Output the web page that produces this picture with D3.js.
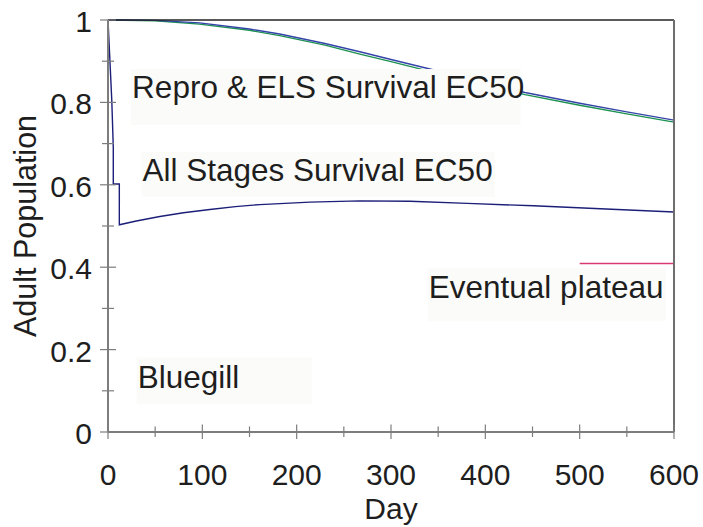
<!DOCTYPE html>
<html lang="en">
<head>
<meta charset="UTF-8">
<title>Bluegill adult population</title>
<script src="https://d3js.org/d3.v7.min.js"></script>
<style>
    body { margin: 0; background: #fff; }
    text { font-family: "Liberation Sans", Arial, sans-serif; fill: #1e1e1e; }
</style>
</head>
<body>
<div id="chart"></div>
<script>
// days and adult population
var reproDays  = [0, 50, 97, 150, 182, 230, 267, 300, 338, 400, 442, 500, 550, 600];
var reproBlue  = [1, 0.999, 0.993, 0.978, 0.966, 0.943, 0.923, 0.904, 0.883, 0.848, 0.824, 0.798, 0.777, 0.757];
var reproGreen = [1, 0.998, 0.990, 0.975, 0.962, 0.939, 0.917, 0.899, 0.877, 0.842, 0.819, 0.793, 0.772, 0.752];

var allDays   = [0, 4, 5.6, 5.6, 12, 12, 30, 55, 80, 108, 135, 161, 214, 267, 320, 381, 451, 522, 600];
var allValues = [1, 0.806, 0.692, 0.602, 0.602, 0.503, 0.512, 0.523, 0.532, 0.540, 0.547, 0.552, 0.558, 0.561, 0.560, 0.555, 0.549, 0.542, 0.534];

var plateauDays   = [500, 600];
var plateauValues = [0.409, 0.409];

var xTickLabels = ["0", "100", "200", "300", "400", "500", "600"];
var yTickLabels = ["0", "0.2", "0.4", "0.6", "0.8", "1"];

var width = 703, height = 527;

var x = d3.scaleLinear().domain([0, 600]).range([108, 674]);
var y = d3.scaleLinear().domain([0, 1]).range([432, 20]);

var svg = d3.select("#chart").append("svg")
    .attr("width", width)
    .attr("height", height);

function toPoints(days, vals) {
    return days.map(function(d, i) { return [d, vals[i]]; });
}

var line = d3.line()
    .x(function(d) { return x(d[0]); })
    .y(function(d) { return y(d[1]); });

// series lines
var series = [
    {pts: toPoints(reproDays, reproGreen), color: "#1b9150"},
    {pts: toPoints(reproDays, reproBlue), color: "#3444a8"},
    {pts: toPoints(allDays, allValues), color: "#1c1f78"},
    {pts: toPoints(plateauDays, plateauValues), color: "#d93a74"}
];

svg.selectAll("path.series")
    .data(series)
    .enter().append("path")
    .attr("class", "series")
    .attr("d", function(d) { return line(d.pts); })
    .attr("fill", "none")
    .attr("stroke", function(d) { return d.color; })
    .attr("stroke-width", 1.4);

// frame: top black, right grey
svg.append("line")
    .attr("x1", x(0)).attr("x2", x(600))
    .attr("y1", y(1)).attr("y2", y(1))
    .attr("stroke", "#222").attr("stroke-width", 1.5);
svg.append("line")
    .attr("x1", x(600)).attr("x2", x(600))
    .attr("y1", y(1)).attr("y2", y(0))
    .attr("stroke", "#6e6e6e").attr("stroke-width", 2);

// axes with ticks crossing the axis line
var axisColor = "#7d7d7d";
var xMajor = d3.range(0, 601, 100), xMinor = d3.range(50, 600, 100);
var yMajor = d3.range(0, 1.01, 0.2), yMinor = d3.range(0.1, 1, 0.2);

var gx = svg.append("g");
gx.append("line")
    .attr("x1", x(0)).attr("x2", x(600))
    .attr("y1", y(0)).attr("y2", y(0))
    .attr("stroke", axisColor).attr("stroke-width", 2);
gx.selectAll("line.maj").data(xMajor).enter().append("line")
    .attr("x1", function(d) { return x(d); }).attr("x2", function(d) { return x(d); })
    .attr("y1", y(0) - 7.5).attr("y2", y(0) + 7)
    .attr("stroke", axisColor).attr("stroke-width", 1.2);
gx.selectAll("line.min").data(xMinor).enter().append("line")
    .attr("x1", function(d) { return x(d); }).attr("x2", function(d) { return x(d); })
    .attr("y1", y(0) - 5.5).attr("y2", y(0) + 5)
    .attr("stroke", axisColor).attr("stroke-width", 1.2);
gx.selectAll("text").data(xMajor).enter().append("text")
    .attr("x", function(d) { return x(d); })
    .attr("y", y(0) + 53)
    .attr("text-anchor", "middle")
    .style("font-size", "30px")
    .text(function(d, i) { return xTickLabels[i]; });

var gy = svg.append("g");
gy.append("line")
    .attr("x1", x(0)).attr("x2", x(0))
    .attr("y1", y(0)).attr("y2", y(1))
    .attr("stroke", axisColor).attr("stroke-width", 2);
gy.selectAll("line.maj").data(yMajor).enter().append("line")
    .attr("x1", x(0) - 8).attr("x2", x(0) + 8)
    .attr("y1", function(d) { return y(d); }).attr("y2", function(d) { return y(d); })
    .attr("stroke", axisColor).attr("stroke-width", 1.2);
gy.selectAll("line.min").data(yMinor).enter().append("line")
    .attr("x1", x(0) - 6).attr("x2", x(0) + 6)
    .attr("y1", function(d) { return y(d); }).attr("y2", function(d) { return y(d); })
    .attr("stroke", axisColor).attr("stroke-width", 1.2);
gy.selectAll("text").data(yMajor).enter().append("text")
    .attr("x", x(0) - 16)
    .attr("y", function(d) { return y(d) + 12; })
    .attr("text-anchor", "end")
    .style("font-size", "30px")
    .text(function(d, i) { return yTickLabels[i]; });

// axis titles
svg.append("text")
    .attr("x", (x(0) + x(600)) / 2)
    .attr("y", 519)
    .attr("text-anchor", "middle")
    .style("font-size", "30px")
    .text("Day");
svg.append("text")
    .attr("transform", "translate(36," + ((y(0) + y(1)) / 2) + ") rotate(-90)")
    .attr("text-anchor", "middle")
    .style("font-size", "30.5px")
    .text("Adult Population");

// annotation boxes sit over the lines (they hide part of the top curves)
var notes = [
    {text: "Repro & ELS Survival EC50", x0: 24.5, x1: 437.5, top: 0.881, bottom: 0.745, base: 0.811},
    {text: "All Stages Survival EC50",  x0: 35.5, x1: 410,   top: 0.680, bottom: 0.570, base: 0.609},
    {text: "Eventual plateau",          x0: 339,  x1: 591.5, top: 0.398, bottom: 0.269, base: 0.325},
    {text: "Bluegill",                  x0: 30.5, x1: 216,   top: 0.181, bottom: 0.068, base: 0.106}
];
var gn = svg.selectAll("g.note").data(notes).enter().append("g").attr("class", "note");
gn.append("rect")
    .attr("x", function(d) { return x(d.x0); })
    .attr("y", function(d) { return y(d.top); })
    .attr("width", function(d) { return x(d.x1) - x(d.x0); })
    .attr("height", function(d) { return y(d.bottom) - y(d.top); })
    .attr("fill", "#fbfbf9");
gn.append("text")
    .attr("x", function(d) { return x(d.x0) + 1; })
    .attr("y", function(d) { return y(d.base); })
    .style("font-size", "31.5px")
    .text(function(d) { return d.text; });
</script>
</body>
</html>
